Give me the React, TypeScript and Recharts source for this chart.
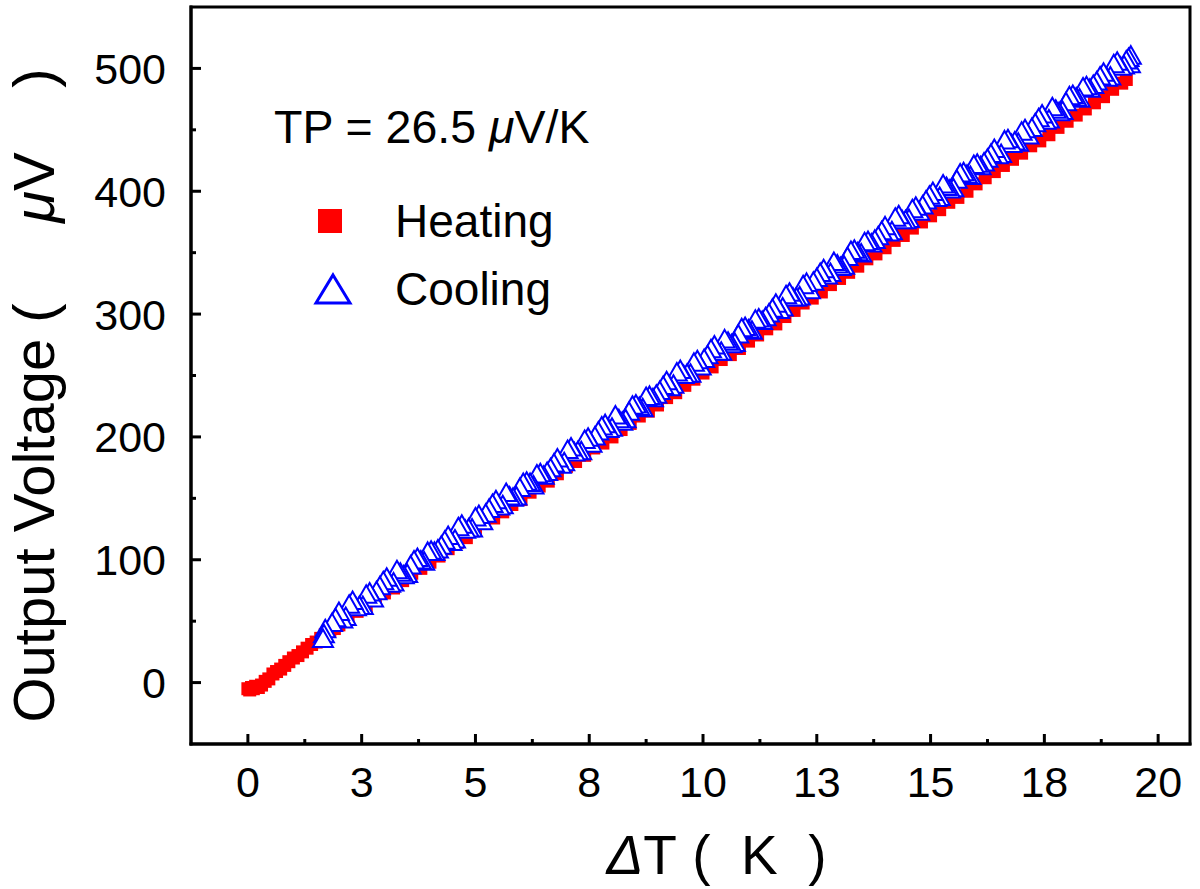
import React from 'react';
import { ScatterChart, Scatter, XAxis, YAxis, Legend, ReferenceArea } from 'recharts';

// Heating run (red squares)
const heatingX = [
  0, 0.04, 0.08, 0.12, 0.17, 0.23, 0.3, 0.38, 0.46, 0.55, 0.63, 0.72, 0.81, 0.9, 1.0, 1.1, 1.2, 1.3, 1.4,
  1.5, 1.6, 1.7, 1.8, 1.9,
  2.0, 2.2, 2.4, 2.6, 2.8, 3.0, 3.2, 3.4, 3.6, 3.8, 4.0, 4.2, 4.4, 4.6, 4.8, 5.0, 5.2, 5.4, 5.6, 5.8,
  6.0, 6.2, 6.4, 6.6, 6.8, 7.0, 7.2, 7.4, 7.6, 7.8, 8.0, 8.2, 8.4, 8.6, 8.8, 9.0, 9.2, 9.4, 9.6, 9.8,
  10.0, 10.2, 10.4, 10.6, 10.8, 11.0, 11.2, 11.4, 11.6, 11.8, 12.0, 12.2, 12.4, 12.6, 12.8, 13.0, 13.2,
  13.4, 13.6, 13.8, 14.0, 14.2, 14.4, 14.6, 14.8, 15.0, 15.2, 15.4, 15.6, 15.8, 16.0, 16.2, 16.4, 16.6,
  16.8, 17.0, 17.2, 17.4, 17.6, 17.8, 18.0, 18.2, 18.4, 18.6, 18.8, 19.0, 19.2, 19.3,
];
const heatingY = [
  -5, -6, -4, -5, -3, -4, -2, 1, 3, 7, 9, 11, 14, 17, 20, 22, 25, 28, 31,
  33, 36, 39, 42, 44,
  47, 52, 58, 62, 68, 73, 77, 83, 89, 93, 98, 103, 109, 114, 118, 124, 130, 134, 139, 145,
  149, 155, 160, 164, 170, 176, 180, 185, 191, 195, 200, 206, 211, 217, 221, 226, 232, 236, 242, 247,
  252, 257, 263, 267, 272, 278, 283, 288, 292, 298, 303, 309, 313, 318, 324, 329, 334,
  339, 345, 349, 354, 360, 364, 370, 375, 380, 385, 391, 395, 400, 406, 411, 416, 421,
  426, 431, 437, 441, 446, 452, 457, 462, 467, 472, 477, 483, 488, 491,
];

// Cooling run (blue open triangles)
const coolingX = [
  1.65, 1.67, 1.7,
  1.85, 2.0, 2.15, 2.3, 2.45, 2.6, 2.75, 2.9, 3.05, 3.2, 3.35, 3.5, 3.65, 3.8, 3.95, 4.1, 4.25, 4.4, 4.55,
  4.7, 4.85, 5.0, 5.15, 5.3, 5.45, 5.6, 5.75, 5.9, 6.05, 6.2, 6.35, 6.5, 6.65, 6.8, 6.95, 7.1, 7.25, 7.4,
  7.55, 7.7, 7.85, 8.0, 8.15, 8.3, 8.45, 8.6, 8.75, 8.9, 9.05, 9.2, 9.35, 9.5, 9.65, 9.8, 9.95, 10.1,
  10.25, 10.4, 10.55, 10.7, 10.85, 11.0, 11.15, 11.3, 11.45, 11.6, 11.75, 11.9, 12.05, 12.2, 12.35, 12.5,
  12.65, 12.8, 12.95, 13.1, 13.25, 13.4, 13.55, 13.7, 13.85, 14.0, 14.15, 14.3, 14.45, 14.6, 14.75, 14.9,
  15.05, 15.2, 15.35, 15.5, 15.65, 15.8, 15.95, 16.1, 16.25, 16.4, 16.55, 16.7, 16.85, 17.0, 17.15, 17.3,
  17.45, 17.6, 17.75, 17.9, 18.05, 18.2, 18.35, 18.5, 18.65, 18.8, 18.95, 19.1, 19.25,
  19.35, 19.38, 19.4,
];
const coolingY = [
  35, 39, 43,
  48, 57, 53, 66, 62, 71, 68, 78, 85, 81, 89, 88, 99, 99, 106, 106, 111, 119, 116,
  128, 125, 134, 131, 141, 148, 144, 151, 151, 162, 162, 169, 168, 174, 182, 179, 191, 188, 197,
  194, 204, 210, 207, 214, 214, 225, 224, 232, 231, 237, 245, 242, 254, 251, 260, 257, 266,
  274, 269, 277, 276, 288, 287, 295, 294, 300, 308, 305, 317, 313, 323, 319, 329,
  336, 333, 340, 339, 351, 350, 358, 357, 363, 371, 367, 380, 376, 385, 383, 392,
  399, 395, 403, 402, 414, 413, 421, 420, 426, 434, 430, 442, 440, 448, 445, 455,
  462, 458, 466, 465, 477, 476, 484, 483, 489, 496, 493, 505, 502,
  508, 503, 510,
];
// cooling readings taken between the ones above
const coolingXMid = [
  1.925, 2.075, 2.225, 2.375, 2.525, 2.675, 2.825, 2.975, 3.125, 3.275, 3.425, 3.575, 3.725, 3.875,
  4.025, 4.175, 4.325, 4.475, 4.625, 4.775, 4.925, 5.075, 5.225, 5.375, 5.525, 5.675, 5.825, 5.975,
  6.125, 6.275, 6.425, 6.575, 6.725, 6.875, 7.025, 7.175, 7.325, 7.475, 7.625, 7.775, 7.925, 8.075,
  8.225, 8.375, 8.525, 8.675, 8.825, 8.975, 9.125, 9.275, 9.425, 9.575, 9.725, 9.875, 10.025, 10.175,
  10.325, 10.475, 10.625, 10.775, 10.925, 11.075, 11.225, 11.375, 11.525, 11.675, 11.825, 11.975,
  12.125, 12.275, 12.425, 12.575, 12.725, 12.875, 13.025, 13.175, 13.325, 13.475, 13.625, 13.775,
  13.925, 14.075, 14.225, 14.375, 14.525, 14.675, 14.825, 14.975, 15.125, 15.275, 15.425, 15.575,
  15.725, 15.875, 16.025, 16.175, 16.325, 16.475, 16.625, 16.775, 16.925, 17.075, 17.225, 17.375,
  17.525, 17.675, 17.825, 17.975, 18.125, 18.275, 18.425, 18.575, 18.725, 18.875, 19.025, 19.175,
  19.3,
];
const coolingYMid = [
  52, 51, 63, 61, 62, 73, 74, 82, 80, 91, 87, 95, 101, 98,
  107, 108, 115, 114, 126, 124, 125, 136, 137, 145, 143, 154, 150, 158,
  163, 160, 170, 171, 178, 177, 189, 187, 188, 199, 200, 208, 206, 217,
  212, 220, 226, 223, 233, 234, 241, 240, 252, 250, 251, 262, 263, 271,
  269, 279, 275, 283, 289, 286, 296, 297, 304, 303, 315, 313,
  314, 325, 326, 333, 331, 342, 338, 346, 352, 349, 359, 360,
  367, 366, 378, 376, 377, 387, 388, 396, 394, 405, 401, 409,
  415, 412, 422, 423, 430, 429, 441, 438, 439, 450, 451, 459,
  457, 468, 464, 472, 478, 475, 485, 486, 493, 492, 503, 501,
  506,
];

const xDomain = [-1.25, 20.7];
const yDomain = [-50, 550];
const xMajorTicks = [0, 2.5, 5, 7.5, 10, 12.5, 15, 17.5, 20];
const xTickLabels = ['0', '3', '5', '8', '10', '13', '15', '18', '20'];
const xMinorTicks = [1.25, 3.75, 6.25, 8.75, 11.25, 13.75, 16.25, 18.75];
const yMajorTicks = [0, 100, 200, 300, 400, 500];
const yMinorTicks = [50, 150, 250, 350, 450];

const heatingData = heatingX.map((x, i) => ({ x, y: heatingY[i] }));
// cooling was recorded from the hot end downwards
const coolingData = [
  ...coolingX.map((x, i) => ({ x, y: coolingY[i] })),
  ...coolingXMid.map((x, i) => ({ x, y: coolingYMid[i] })),
].sort((a, b) => b.x - a.x);

const FONT = '"Liberation Sans", Arial, Helvetica, sans-serif';
const RED = '#ff0000';
const BLUE = '#0000ff';

const XTick = (props: any) => {
  const { x, y, payload } = props;
  const i = xMajorTicks.indexOf(payload.value);
  const major = i >= 0;
  return (
    <g>
      <line x1={x} x2={x} y1={y} y2={y - (major ? 10 : 5)} stroke="#000" strokeWidth={3} />
      {major && (
        <text x={x} y={y + 53} textAnchor="middle" fontSize={43} fill="#000">
          {xTickLabels[i]}
        </text>
      )}
    </g>
  );
};

const YTick = (props: any) => {
  const { x, y, payload } = props;
  const major = yMajorTicks.includes(payload.value);
  return (
    <g>
      <line x1={x} x2={x + (major ? 10 : 5)} y1={y} y2={y} stroke="#000" strokeWidth={3} />
      {major && (
        <text x={x - 25} y={y} dy="0.36em" textAnchor="end" fontSize={43} fill="#000">
          {payload.value}
        </text>
      )}
    </g>
  );
};

const SquareDot = (props: any) => {
  const { cx, cy } = props;
  return <rect x={cx - 6.5} y={cy - 6.5} width={13} height={13} fill={RED} />;
};

const TriangleDot = (props: any) => {
  const { cx, cy } = props;
  const s = 10;
  return (
    <polygon
      points={`${cx},${cy - s} ${cx + s},${cy + s * 0.75} ${cx - s},${cy + s * 0.75}`}
      fill="#fff"
      stroke={BLUE}
      strokeWidth={2}
    />
  );
};

const XLabel = (props: any) => {
  const vb = props.viewBox;
  return (
    <text x={vb.x + vb.width / 2 + 26} y={vb.y + 130} textAnchor="middle" fontSize={55} fill="#000">
      <tspan fontStyle="italic">Δ</tspan>
      {'T\u00A0(\u00A0\u00A0K\u00A0\u00A0)'}
    </text>
  );
};

const YLabel = (props: any) => {
  const vb = props.viewBox;
  const bx = vb.x + 54;
  const cy = vb.y + vb.height / 2 + 20;
  return (
    <text
      x={bx}
      y={cy}
      transform={`rotate(-90, ${bx}, ${cy})`}
      textAnchor="middle"
      fontSize={58}
      fill="#000"
    >
      {'Output Voltage (\u00A0\u00A0\u00A0\u00A0\u00A0'}
      <tspan fontStyle="italic">μ</tspan>
      {'V\u00A0\u00A0\u00A0\u00A0)'}
    </text>
  );
};

const renderLegend = () => (
  <svg width={420} height={240} style={{ display: 'block', fontFamily: FONT }}>
    <text x={34} y={53} fontSize={46.5} fill="#000">
      {'TP = 26.5 '}
      <tspan fontStyle="italic">μ</tspan>
      {'V/K'}
    </text>
    <rect x={78} y={119} width={24} height={24} fill={RED} />
    <text x={155} y={147} fontSize={46} fill="#000">Heating</text>
    <polygon points="93,185 110,213 76,213" fill="none" stroke={BLUE} strokeWidth={3} />
    <text x={155} y={215} fontSize={46} fill="#000">Cooling</text>
  </svg>
);

const axisLine = { stroke: '#000', strokeWidth: 3, strokeLinecap: 'square' as const };

export default function App() {
  return (
    <div
      style={{
        position: 'absolute',
        left: 0,
        top: 0,
        width: 1200,
        height: 889,
        background: '#fff',
        fontFamily: FONT,
      }}
    >
      <ScatterChart width={1200} height={889} margin={{ top: 7, right: 10, bottom: 0, left: 0 }}>
        <XAxis
          type="number"
          dataKey="x"
          domain={xDomain}
          allowDataOverflow
          ticks={[...xMajorTicks, ...xMinorTicks].sort((a, b) => a - b)}
          interval={0}
          tickSize={0}
          tickMargin={0}
          tick={(p: any) => <XTick {...p} />}
          tickLine={false}
          axisLine={axisLine}
          height={145}
          label={{ content: (p: any) => <XLabel {...p} /> }}
        />
        <YAxis
          type="number"
          dataKey="y"
          domain={yDomain}
          allowDataOverflow
          ticks={[...yMajorTicks, ...yMinorTicks].sort((a, b) => a - b)}
          interval={0}
          tickSize={0}
          tickMargin={0}
          tick={(p: any) => <YTick {...p} />}
          tickLine={false}
          axisLine={axisLine}
          width={191}
          label={{ content: (p: any) => <YLabel {...p} /> }}
        />
        <ReferenceArea
          x1={xDomain[0]}
          x2={xDomain[1]}
          y1={yDomain[0]}
          y2={yDomain[1]}
          fill="none"
          fillOpacity={0}
          stroke="#000"
          strokeWidth={3}
          ifOverflow="visible"
        />
        <Legend
          layout="vertical"
          align="center"
          verticalAlign="middle"
          content={renderLegend}
          wrapperStyle={{ left: 240, top: 90, width: 420, height: 240 }}
        />
        <Scatter name="Heating" data={heatingData} shape={(p: any) => <SquareDot {...p} />} isAnimationActive={false} />
        <Scatter name="Cooling" data={coolingData} shape={(p: any) => <TriangleDot {...p} />} isAnimationActive={false} />
      </ScatterChart>
    </div>
  );
}
